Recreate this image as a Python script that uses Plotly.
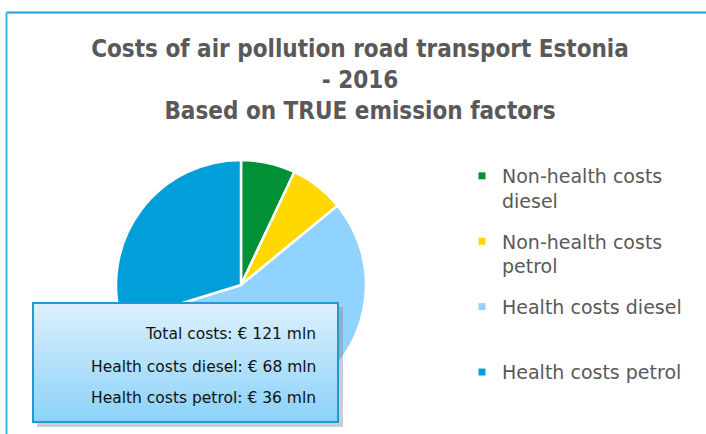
import plotly.graph_objects as go

labels = ["Non-health costs diesel", "Non-health costs petrol", "Health costs diesel", "Health costs petrol"]
legend_text = ["Non-health costs<br>diesel", "Non-health costs<br>petrol", "Health costs diesel<br> ", "Health costs petrol"]
values = [8.5, 8.5, 68, 36]
colors = ["#009036", "#FFD800", "#8FD3FE", "#009FDA"]
box_lines = ["Total costs: € 121 mln", "Health costs diesel: € 68 mln", "Health costs petrol: € 36 mln"]

W, H = 706, 434
def px(x): return x / W
def py(y): return 1 - y / H

fig = go.Figure()
fig.add_trace(go.Pie(
    labels=labels, values=values, sort=False, direction="clockwise", rotation=0,
    marker=dict(colors=colors, line=dict(color="white", width=2.5)),
    textinfo="none", hoverinfo="label+value", showlegend=False,
    domain=dict(x=[px(116), px(366)], y=[py(410), py(160)]),
))
for i, (name, col) in enumerate(zip(legend_text, colors)):
    fig.add_trace(go.Scatter(x=[None], y=[None], mode="markers", name=name, legendgroup="g%d" % i,
                             marker=dict(symbol="square", size=7, color=col), showlegend=True))

shapes = []
# chart border
shapes.append(dict(type="line", xref="paper", yref="paper", x0=px(6.5), x1=px(720), y0=py(12.5), y1=py(12.5),
                   line=dict(color="#1E9CD8", width=2)))
shapes.append(dict(type="line", xref="paper", yref="paper", x0=px(6.5), x1=px(6.5), y0=py(12.5), y1=py(450),
                   line=dict(color="#35B6EA", width=2)))
# text box shadow
bx0, bx1, by0, by1 = 33, 338, 303, 422
shapes.append(dict(type="rect", xref="paper", yref="paper", x0=px(bx0 + 4), x1=px(bx1 + 5), y0=py(by1 + 5), y1=py(by0 + 4),
                   line=dict(width=0), fillcolor="rgba(130,130,130,0.4)"))
n = 40
c0 = (220, 240, 252)
c1 = (140, 210, 250)
for i in range(n):
    t = i / (n - 1)
    c = tuple(int(round(c0[k] + (c1[k] - c0[k]) * t)) for k in range(3))
    ya = by0 + (by1 - by0) * i / n
    yb = by0 + (by1 - by0) * (i + 1) / n + 0.6
    shapes.append(dict(type="rect", xref="paper", yref="paper", x0=px(bx0), x1=px(bx1), y0=py(yb), y1=py(ya),
                       line=dict(width=0), fillcolor="rgb(%d,%d,%d)" % c))
shapes.append(dict(type="rect", xref="paper", yref="paper", x0=px(bx0), x1=px(bx1), y0=py(by1), y1=py(by0),
                   line=dict(color="#1E9BD7", width=2), fillcolor="rgba(0,0,0,0)"))

annotations = []
for txt, yc in zip(box_lines, [334, 367, 398]):
    annotations.append(dict(text=txt, xref="paper", yref="paper", x=px(318), y=py(yc), xanchor="right", yanchor="middle",
                            showarrow=False, font=dict(family="DejaVu Sans", size=15.5, color="#111111")))

fig.update_layout(
    width=W, height=H,
    margin=dict(l=0, r=0, t=0, b=0),
    paper_bgcolor="white", plot_bgcolor="white",
    xaxis=dict(visible=False), yaxis=dict(visible=False),
    title=dict(text="<b>Costs of air pollution road transport Estonia<br>- 2016<br>Based on TRUE emission factors</b>",
               x=px(360), xanchor="center", y=py(57), yanchor="top",
               font=dict(family="DejaVu Sans Condensed, DejaVu Sans", size=24, color="#595959")),
    legend=dict(x=px(462), y=py(157), xanchor="left", yanchor="top", traceorder="grouped", tracegroupgap=13,
                valign="top", bgcolor="rgba(0,0,0,0)",
                font=dict(family="DejaVu Sans", size=19, color="#595959"),
                itemwidth=30),
    shapes=shapes, annotations=annotations,
)
fig.write_html("out.html", config={"displayModeBar": False},
               post_script="document.body.style.margin='0px';document.body.style.padding='0px';")
